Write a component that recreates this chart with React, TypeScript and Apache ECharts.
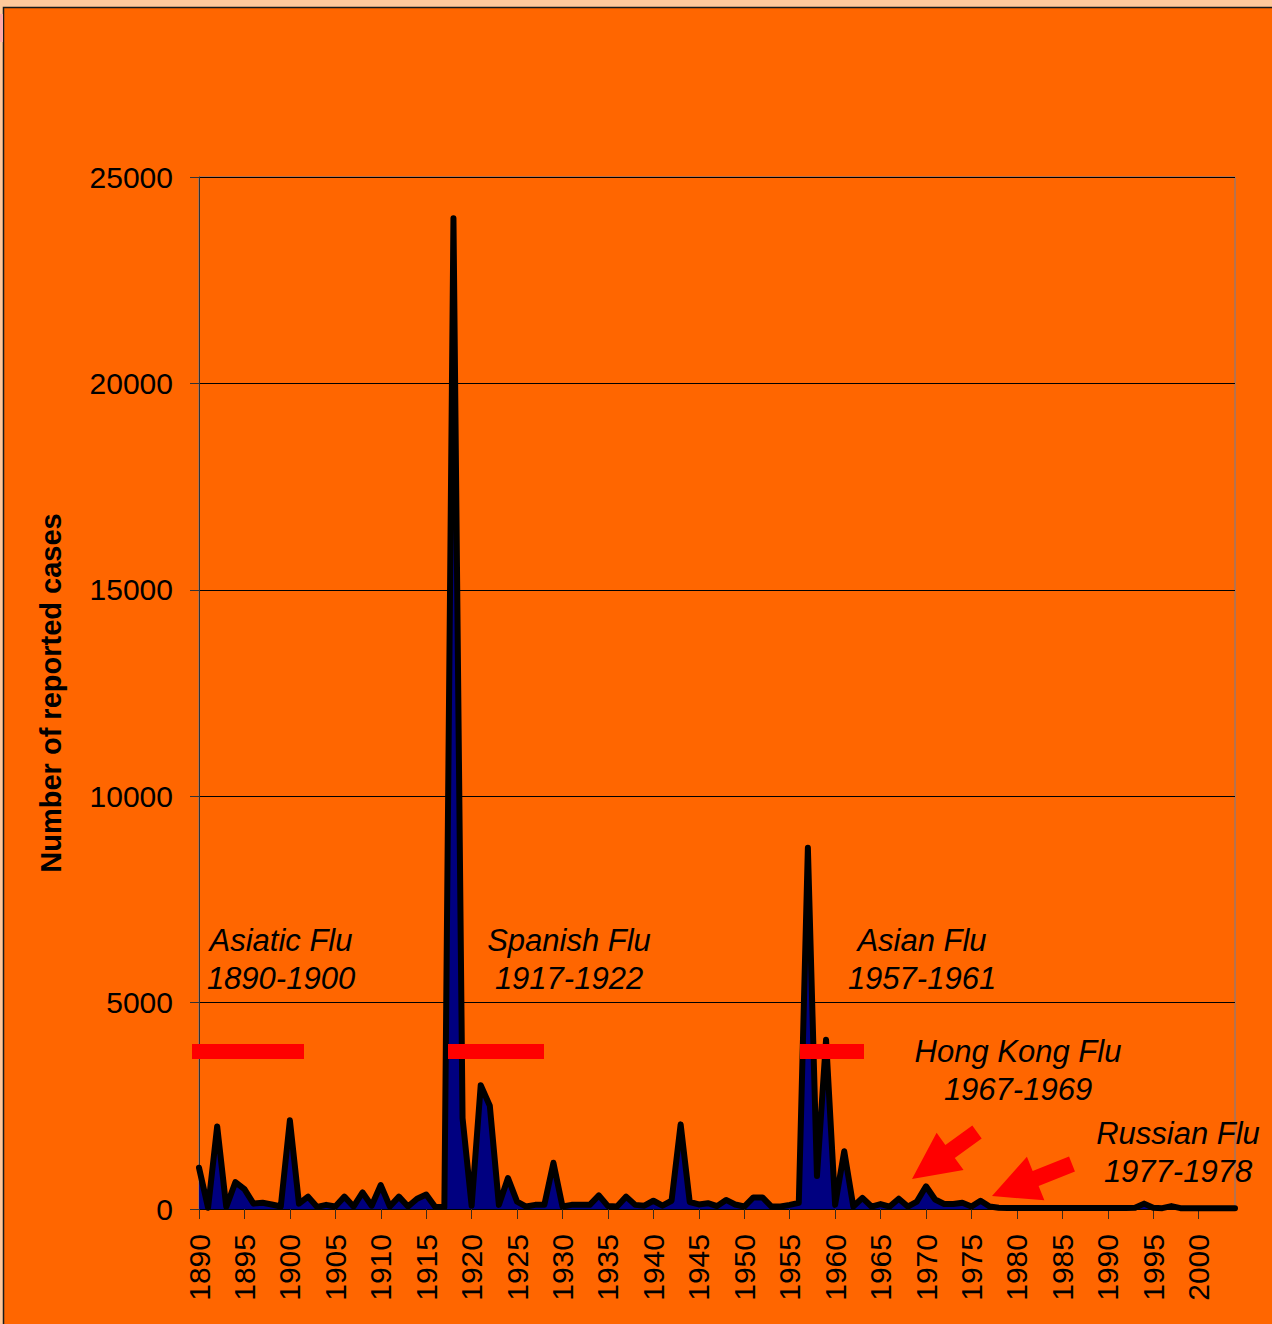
import React, { useEffect, useRef } from "react";
import * as echarts from "echarts";

const years: string[] = [];
for (let y = 1890; y <= 2004; y++) years.push(String(y));

// Reported cases per year, 1890..2004
const cases1890s = [1000, 30, 2000, 50, 650, 480, 130, 150, 110, 60];
const cases1900s = [2150, 130, 300, 50, 100, 60, 300, 60, 400, 80];
const cases1910s = [580, 60, 300, 60, 250, 350, 50, 50, 24000, 2200];
const cases1920s = [80, 3000, 2500, 100, 750, 180, 60, 100, 100, 1120];
const cases1930s = [60, 100, 100, 100, 330, 70, 60, 300, 100, 80];
const cases1940s = [200, 80, 200, 2050, 170, 110, 140, 70, 220, 110];
const cases1950s = [60, 280, 280, 60, 60, 100, 150, 8750, 800, 4100];
const cases1960s = [100, 1400, 60, 270, 60, 120, 60, 250, 60, 180];
const cases1970s = [550, 230, 120, 120, 150, 60, 200, 60, 30, 25];
const cases1980s = [25, 25, 25, 25, 25, 25, 25, 25, 25, 25];
const cases1990s = [25, 25, 25, 30, 130, 30, 20, 70, 20, 20];
const cases2000s = [20, 20, 20, 20, 20];

const cases = [
  ...cases1890s, ...cases1900s, ...cases1910s, ...cases1920s, ...cases1930s,
  ...cases1940s, ...cases1950s, ...cases1960s, ...cases1970s, ...cases1980s,
  ...cases1990s, ...cases2000s,
];

const yTicks = { min: 0, max: 25000, interval: 5000 };

const pandemics = [
  { name: "Asiatic Flu", period: "1890-1900" },
  { name: "Spanish Flu", period: "1917-1922" },
  { name: "Asian Flu", period: "1957-1961" },
  { name: "Hong Kong Flu", period: "1967-1969" },
  { name: "Russian Flu", period: "1977-1978" },
];

const FONT = "'Liberation Sans', Arial, Helvetica, sans-serif";

function arrowPoints(tail: number[], tip: number[], shaftW: number, headL: number, headW: number) {
  const dx = tip[0] - tail[0];
  const dy = tip[1] - tail[1];
  const len = Math.hypot(dx, dy);
  const ux = dx / len, uy = dy / len;
  const nx = -uy, ny = ux;
  const bx = tip[0] - ux * headL, by = tip[1] - uy * headL;
  const s = shaftW / 2, h = headW / 2;
  return [
    [tail[0] + nx * s, tail[1] + ny * s],
    [bx + nx * s, by + ny * s],
    [bx + nx * h, by + ny * h],
    [tip[0], tip[1]],
    [bx - nx * h, by - ny * h],
    [bx - nx * s, by - ny * s],
    [tail[0] - nx * s, tail[1] - ny * s],
  ];
}

export default function App() {
  const ref = useRef<HTMLDivElement>(null);
  useEffect(() => {
    if (!ref.current) return;
    const chart = echarts.init(ref.current, undefined, { renderer: "svg" });

    const labelPos = [
      [281, 940], [569, 940], [922, 940], [1018, 1051], [1178, 1133],
    ];
    const texts: any[] = [];
    pandemics.forEach((p, i) => {
      texts.push({
        type: "text", z: 100,
        style: { text: p.name, x: labelPos[i][0], y: labelPos[i][1], fill: "#000",
          font: `italic 31px ${FONT}`, textAlign: "center", textVerticalAlign: "middle" },
      });
      texts.push({
        type: "text", z: 100,
        style: { text: p.period, x: labelPos[i][0], y: labelPos[i][1] + 38, fill: "#000",
          font: `italic 31px ${FONT}`, textAlign: "center", textVerticalAlign: "middle" },
      });
    });

    const bars = [[192, 304], [448, 544], [800, 864]].map(([a, b]) => ({
      type: "rect", z: 100,
      shape: { x: a, y: 1044, width: b - a, height: 15 },
      style: { fill: "#FF0000" },
    }));

    const arrows = [
      arrowPoints([977, 1132], [912, 1179], 16, 47, 46),
      arrowPoints([1072, 1164], [992, 1196], 16, 47, 47),
    ].map((pts) => ({
      type: "polygon", z: 100,
      shape: { points: pts },
      style: { fill: "#FF0000" },
    }));

    chart.setOption({
      animation: false,
      backgroundColor: "#FFC89C",
      grid: {
        left: 199, top: 177, width: 1036, height: 1032,
        show: true, borderColor: "#6F7F99", borderWidth: 1,
      },
      xAxis: {
        type: "category",
        data: years,
        boundaryGap: false,
        axisLine: { show: true, lineStyle: { color: "#000", width: 1 } },
        axisTick: { show: true, interval: 4, length: 10, lineStyle: { color: "#3a2a1a", width: 1 } },
        axisLabel: {
          interval: 4, rotate: 90, margin: 25, color: "#000",
          fontSize: 30, fontFamily: FONT,
        },
        splitLine: { show: false },
      },
      yAxis: {
        type: "value",
        min: yTicks.min, max: yTicks.max, interval: yTicks.interval,
        name: "Number of reported cases",
        nameLocation: "middle",
        nameGap: 134,
        nameRotate: 90,
        nameTextStyle: { fontSize: 29, fontWeight: "bold", color: "#000", fontFamily: FONT },
        axisLine: { show: true, lineStyle: { color: "#333", width: 1 } },
        axisTick: { show: true, inside: false, length: 9, lineStyle: { color: "#333" } },
        axisLabel: {
          color: "#000", fontSize: 30, fontFamily: FONT, margin: 26,
          formatter: (v: number) => String(v),
        },
        splitLine: { show: true, lineStyle: { color: "#000", width: 1 } },
      },
      series: [
        {
          type: "line",
          data: cases,
          symbol: "none",
          lineStyle: { color: "#000", width: 6, join: "round", cap: "round" },
          areaStyle: { color: "#000080", opacity: 1 },
          z: 3,
        },
      ],
      graphic: [
        {
          type: "rect", z: -100, silent: true,
          shape: { x: 3.5, y: 7.5, width: 1300, height: 1340 },
          style: { fill: "#FF6600", stroke: "#1a1a1a", lineWidth: 1.5 },
        },
        {
          type: "rect", z: -99, silent: true,
          shape: { x: 0, y: 14, width: 3, height: 28 },
          style: { fill: "#FFA8A8" },
        },
        ...bars,
        ...arrows,
        ...texts,
      ],
    });
    return () => chart.dispose();
  }, []);

  return (
    <div
      ref={ref}
      style={{ position: "fixed", left: 0, top: 0, width: 1272, height: 1324 }}
    />
  );
}
